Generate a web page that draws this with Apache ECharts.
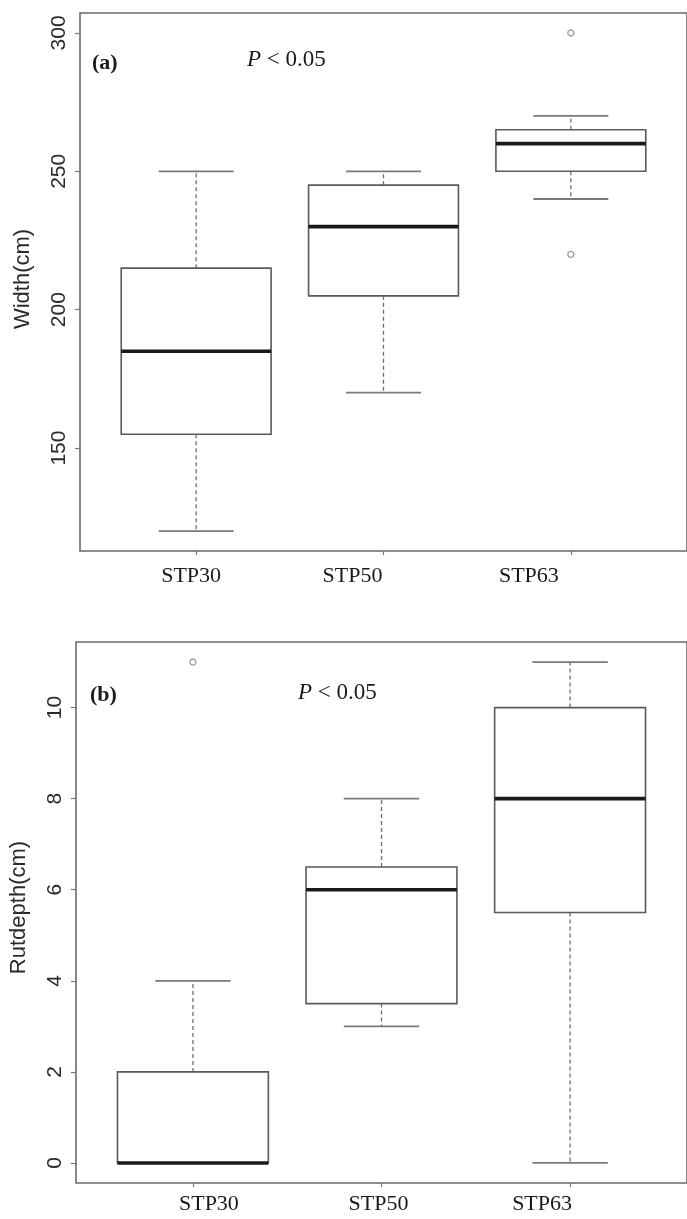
<!DOCTYPE html>
<html><head><meta charset="utf-8">
<script src="https://cdn.jsdelivr.net/npm/echarts@6/dist/echarts.min.js"></script>
<style>html,body{margin:0;padding:0;background:#fff}#c{width:687px;height:1219px}</style>
</head><body><div id="c"></div>
<script>
// ---- data ----
const categories = ['STP30', 'STP50', 'STP63'];
const positions = [1, 2, 3];

const widthMin = [120, 170, 240];
const widthQ1  = [155, 205, 250];
const widthMed = [185, 230, 260];
const widthQ3  = [215, 245, 265];
const widthMax = [250, 250, 270];
const widthOutlierGroup = [3, 3];
const widthOutlierValue = [300, 220];
const widthTicks = [150, 200, 250, 300];

const rutMin = [0, 3, 0];
const rutQ1  = [0, 3.5, 5.5];
const rutMed = [0, 6, 8];
const rutQ3  = [2, 6.5, 10];
const rutMax = [4, 8, 11];
const rutOutlierGroup = [1];
const rutOutlierValue = [11];
const rutTicks = [0, 2, 4, 6, 8, 10];

// ---- build ----
function boxData(mn, q1, md, q3, mx) {
  return positions.map((p, i) => [p, mn[i], q1[i], md[i], q3[i], mx[i]]);
}
function outData(g, v) { return g.map((x, i) => [x, v[i]]); }

function renderBox(params, api) {
  const x = api.value(0);
  const pMin = api.coord([x, api.value(1)]);
  const pQ1 = api.coord([x, api.value(2)]);
  const pMed = api.coord([x, api.value(3)]);
  const pQ3 = api.coord([x, api.value(4)]);
  const pMax = api.coord([x, api.value(5)]);
  const bw = api.size([0.8, 0])[0];
  const cw = api.size([0.4, 0])[0];
  const cx = pMed[0];
  const dashStyle = { stroke: '#6e6e6e', lineWidth: 1.3, lineDash: [4, 3] };
  const capStyle = { stroke: '#7a7a7a', lineWidth: 1.8 };
  return {
    type: 'group',
    children: [
      { type: 'line', shape: { x1: cx, y1: pQ3[1], x2: cx, y2: pMax[1] }, style: dashStyle },
      { type: 'line', shape: { x1: cx, y1: pQ1[1], x2: cx, y2: pMin[1] }, style: dashStyle },
      { type: 'line', shape: { x1: cx - cw / 2, y1: pMax[1], x2: cx + cw / 2, y2: pMax[1] }, style: capStyle },
      { type: 'line', shape: { x1: cx - cw / 2, y1: pMin[1], x2: cx + cw / 2, y2: pMin[1] }, style: capStyle },
      { type: 'rect', shape: { x: cx - bw / 2, y: pQ3[1], width: bw, height: pQ1[1] - pQ3[1] },
        style: { fill: '#fff', stroke: '#5a5a5a', lineWidth: 1.6 } },
      { type: 'line', shape: { x1: cx - bw / 2, y1: pMed[1], x2: cx + bw / 2, y2: pMed[1] },
        style: { stroke: '#1a1a1a', lineWidth: 3.6 } }
    ]
  };
}

const sans = 'Liberation Sans';
const serif = 'Liberation Serif';

function xAxisCfg(gi, shifts, margin) {
  const rich = {};
  shifts.forEach((s, i) => {
    rich['l' + i] = {
      fontFamily: serif, fontSize: 22, color: '#1a1a1a',
      padding: s < 0 ? [0, -2 * s, 0, 0] : [0, 0, 0, 2 * s]
    };
  });
  return {
    gridIndex: gi, type: 'value', min: 0.38, max: 3.62,
    splitLine: { show: false }, axisLine: { show: false, onZero: false },
    axisTick: { show: true, customValues: positions, length: 4, lineStyle: { color: '#777', width: 1.2 } },
    axisLabel: {
      customValues: positions, margin: margin,
      formatter: v => { const i = Math.round(v) - 1; return '{l' + i + '|' + categories[i] + '}'; },
      rich: rich
    }
  };
}

function yAxisCfg(gi, mn, mx, ticks, name, nameGap, namePad) {
  return {
    gridIndex: gi, type: 'value', min: mn, max: mx,
    splitLine: { show: false }, axisLine: { show: false, onZero: false },
    axisTick: { show: true, customValues: ticks, length: 5, lineStyle: { color: '#777', width: 1.2 } },
    axisLabel: { customValues: ticks, rotate: 90, margin: 10, fontFamily: sans, fontSize: 21, color: '#2a2a2a' },
    name: name, nameLocation: 'middle', nameGap: nameGap, nameRotate: 90,
    nameTextStyle: { fontFamily: sans, fontSize: 22, color: '#2a2a2a', padding: namePad }
  };
}

const chart = echarts.init(document.getElementById('c'), null, { renderer: 'canvas' });
chart.setOption({
  backgroundColor: '#fff',
  animation: false,
  grid: [
    { left: 80, top: 13, width: 610, height: 538, show: true, borderColor: '#6a6a6a', borderWidth: 1.6, backgroundColor: 'transparent' },
    { left: 75, top: 642, width: 625, height: 541, show: true, borderColor: '#6a6a6a', borderWidth: 1.6, backgroundColor: 'transparent' }
  ],
  xAxis: [xAxisCfg(0, [-5, -31, -42], 14), xAxisCfg(1, [16, -3, -28], 10)],
  yAxis: [
    yAxisCfg(0, 112.8, 307.2, widthTicks, 'Width(cm)', 46, [0, 0, 0, 6]),
    yAxisCfg(1, -0.44, 11.44, rutTicks, 'Rutdepth(cm)', 46, [0, 0, 0, 10])
  ],
  series: [
    { type: 'custom', xAxisIndex: 0, yAxisIndex: 0, renderItem: renderBox,
      encode: { x: 0, y: [1, 2, 3, 4, 5] }, data: boxData(widthMin, widthQ1, widthMed, widthQ3, widthMax) },
    { type: 'scatter', xAxisIndex: 0, yAxisIndex: 0, symbol: 'circle', symbolSize: 6,
      itemStyle: { color: '#fff', borderColor: '#8a8a8a', borderWidth: 1.4 },
      data: outData(widthOutlierGroup, widthOutlierValue) },
    { type: 'custom', xAxisIndex: 1, yAxisIndex: 1, renderItem: renderBox,
      encode: { x: 0, y: [1, 2, 3, 4, 5] }, data: boxData(rutMin, rutQ1, rutMed, rutQ3, rutMax) },
    { type: 'scatter', xAxisIndex: 1, yAxisIndex: 1, symbol: 'circle', symbolSize: 6,
      itemStyle: { color: '#fff', borderColor: '#8a8a8a', borderWidth: 1.4 },
      data: outData(rutOutlierGroup, rutOutlierValue) }
  ],
  graphic: [
    { type: 'text', x: 92, y: 63, style: { text: '(a)', font: 'bold 22px "Liberation Serif"', fill: '#1a1a1a', verticalAlign: 'middle' } },
    { type: 'text', x: 247, y: 60, style: { text: '{i|P} < 0.05', fill: '#1a1a1a', font: '23px "Liberation Serif"', verticalAlign: 'middle',
        rich: { i: { fontStyle: 'italic', fontFamily: serif, fontSize: 23, fill: '#1a1a1a' } } } },
    { type: 'text', x: 90, y: 695, style: { text: '(b)', font: 'bold 22px "Liberation Serif"', fill: '#1a1a1a', verticalAlign: 'middle' } },
    { type: 'text', x: 298, y: 693, style: { text: '{i|P} < 0.05', fill: '#1a1a1a', font: '23px "Liberation Serif"', verticalAlign: 'middle',
        rich: { i: { fontStyle: 'italic', fontFamily: serif, fontSize: 23, fill: '#1a1a1a' } } } }
  ]
});
</script>
</body></html>
